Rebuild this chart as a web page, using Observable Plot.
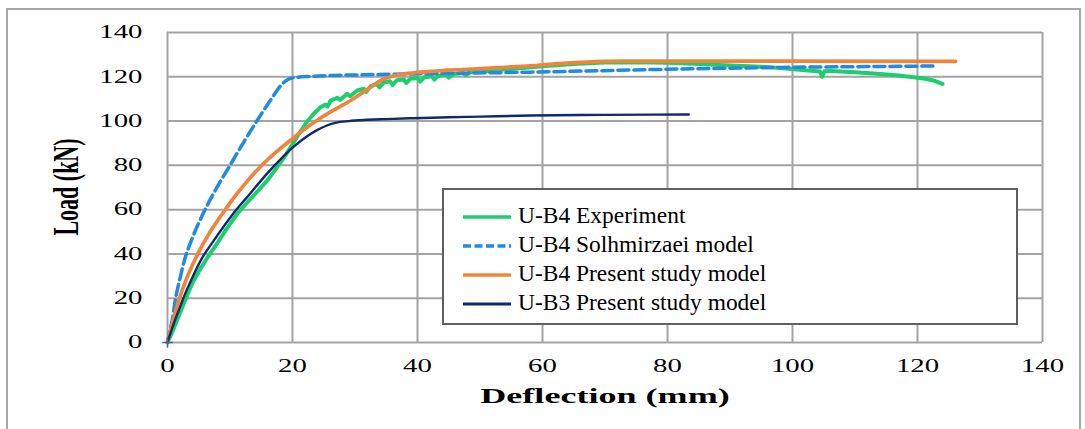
<!DOCTYPE html>
<html><head><meta charset="utf-8">
<script src="https://cdn.jsdelivr.net/npm/d3@7"></script>
<script src="https://cdn.jsdelivr.net/npm/@observablehq/plot@0.6"></script>
<style>html,body{margin:0;padding:0;background:#fff;} #chart{position:relative;width:1085px;height:429px;overflow:hidden;background:#fff;}</style>
</head><body><div id="chart"></div>
<script>
const xTicks = [0, 20, 40, 60, 80, 100, 120, 140];
const yTicks = [0, 20, 40, 60, 80, 100, 120, 140];
const xLabel = "Deflection (mm)";
const yLabel = "Load (kN)";
const seriesNames = ["U-B4 Experiment", "U-B4 Solhmirzaei model", "U-B4 Present study model", "U-B3 Present study model"];
const seriesColors = ["#1ccf6c", "#1f8be2", "#f0843a", "#10286c"];

const experiment = [[0,0],[0.8,5],[1.8,12],[2.8,19],[4,27],[5.2,33],[6.4,38.4],[8,45],[9.5,51.5],[11.15,58.1],[13,64],[14.9,69.8],[16.2,74],[17.55,79.2],[19,85],[20.2,90.5],[21.2,95],[22.35,99.8],[23.4,103.3],[24.5,106.3],[25.3,107.5],[25.6,106.5],[26.1,109.2],[27.15,110.5],[27.6,109.5],[28.75,112.3],[29.2,111.2],[30.35,113.8],[31.4,114.6],[31.8,113.2],[32.5,115.8],[33.5,116.8],[33.9,115.2],[34.6,117.4],[35.6,118],[36,116.3],[36.7,118.4],[37.8,118.8],[38.2,117.2],[38.9,119.1],[40,119.5],[40.4,117.8],[41.1,119.8],[42.3,120.2],[42.7,118.7],[43.3,120.5],[44.6,120.9],[45,119.6],[45.7,121.2],[47.3,121.7],[47.7,120.7],[48.4,122],[50.1,122.4],[52.5,123],[55.4,123.6],[60,124.8],[65,125.8],[70,126.5],[75,126.6],[80,126.3],[85,125.8],[90,125.1],[95,124.5],[98.1,124],[102,122.9],[104.4,122.4],[104.75,120],[105.1,122.5],[106.1,122.6],[110,122],[114.1,121.3],[117,120.6],[119.4,119.8],[121,119.2],[122.6,118.3],[124,116.8]];
const solhmirzaei = [[0,0],[0.35,5],[0.75,10],[1.3,20],[2,29],[2.8,38],[3.95,47],[5,54],[6.1,60.5],[8,70.5],[10.1,80.5],[12.2,90.5],[14.4,100.5],[16.5,109.5],[18.2,116.3],[19.2,118.7],[20.3,119.6],[23,120.2],[30.9,120.9],[39.4,121.3],[58.1,122.1],[80,123.4],[100,124.3],[120,124.8],[122.9,124.9]];
const presentB4 = [[0,0],[0.5,5.5],[1,11],[1.6,17],[2.1,21.5],[3,28.5],[4,35],[5.3,42.5],[6.5,48.5],[8,55],[9.5,61],[10.6,65.3],[12.5,72],[14.9,79.5],[17.5,86.3],[20,92],[22,96.5],[24,100.5],[26.5,104.8],[29.3,109.3],[32,114.3],[34.6,119],[36.5,120.6],[39.4,121.8],[43,122.6],[47.4,123.3],[53.3,124.2],[58.1,124.9],[62,125.8],[66,126.5],[70,127],[80,127.1],[100,127.1],[126.1,127]];
const presentB3 = [[0,0],[1,8.5],[2,16],[2.6,20.5],[4,29.5],[5.3,37],[7.4,46],[10.6,58.5],[13,66.5],[16,76.5],[18,82.5],[20,88],[22,92.5],[24,96],[25.5,98],[27,99.3],[29,100],[31.4,100.5],[35,100.9],[39.4,101.3],[45,101.7],[50.1,102],[58.1,102.5],[70,102.8],[83.4,103]];

const seriesData = [experiment, solhmirzaei, presentB4, presentB3];
const lineWidths = [4, 3.5, 3.7, 2.4];
const dashes = [null, "11,5", null, null];
const legendWidths = [3.5, 3.5, 3.5, 3];
const legendDashes = [null, "8,3.5", null, null];

const font = "Liberation Serif, Times New Roman, serif";
const X = d => d[0], Y = d => d[1];

const lineMarks = seriesData.map((data, i) => Plot.line(data, {
  x: X, y: Y, stroke: seriesColors[i], strokeWidth: lineWidths[i],
  strokeDasharray: dashes[i] || undefined, strokeLinejoin: "round",
  curve: i === 0 ? "linear" : "monotone-x"
}));

const plot = Plot.plot({
  width: 1085, height: 429,
  marginLeft: 167, marginRight: 43, marginTop: 32, marginBottom: 87,
  style: {background: "#fff", color: "#000", fontFamily: font},
  x: {domain: [0, 140]},
  y: {domain: [0, 140]},
  marks: [
    Plot.gridX(xTicks, {stroke: "#a3a3a3", strokeOpacity: 1, strokeWidth: 2}),
    Plot.gridY(yTicks, {stroke: "#a3a3a3", strokeOpacity: 1, strokeWidth: 2}),
    ...lineMarks,
    Plot.dot([[0, 0]], {x: X, y: Y, symbol: "plus", r: 3.5, stroke: "#3b6e7e", strokeWidth: 1.5}),
    Plot.axisX(xTicks, {tickSize: 0, tickPadding: 17, fontSize: 18, fontFamily: font, label: null}),
    Plot.axisY(yTicks, {tickSize: 0, tickPadding: 25, fontSize: 18, fontFamily: font, label: null}),
    Plot.text([xLabel], {text: d => d, frameAnchor: "bottom", dy: 60, fontSize: 22, fontWeight: "bold", fontFamily: font, fill: "#000"}),
    Plot.text([yLabel], {text: d => d, frameAnchor: "left", fontSize: 22, fontWeight: "bold", fontFamily: font, fill: "#000"})
  ]
});
document.getElementById("chart").append(plot);

const svg = d3.select(plot);
function stretch(el, k) {
  const L = el.getComputedTextLength();
  el.setAttribute("textLength", L * k);
  el.setAttribute("lengthAdjust", "spacingAndGlyphs");
}
svg.selectAll('g[aria-label="x-axis tick label"] text, g[aria-label="y-axis tick label"] text').each(function() { stretch(this, 1.6); });
svg.selectAll('g[aria-label="text"] text').each(function() {
  if (this.textContent === xLabel) stretch(this, 1.64);
  else if (this.textContent === yLabel) {
    const g = this.parentNode;
    if (g && g.removeAttribute) g.removeAttribute("transform");
    this.removeAttribute("x"); this.removeAttribute("y"); this.removeAttribute("dy");
    this.setAttribute("text-anchor", "middle");
    this.setAttribute("transform", "translate(78,187) rotate(-90) scale(1,1.6)");
  }
});

// legend
const lg = svg.append("g").attr("aria-label", "legend").attr("text-anchor", "start");
lg.append("rect").attr("x", 443).attr("y", 189).attr("width", 574).attr("height", 135)
  .attr("fill", "#fff").attr("stroke", "#5f5f5f").attr("stroke-width", 2);
seriesNames.forEach((name, i) => {
  const yy = 217 + 29 * i;
  lg.append("line").attr("x1", 463).attr("x2", 511).attr("y1", yy).attr("y2", yy)
    .attr("stroke", seriesColors[i]).attr("stroke-width", legendWidths[i])
    .attr("stroke-dasharray", legendDashes[i]);
  const t = lg.append("text").attr("x", 518).attr("y", 222.5 + 29 * i)
    .attr("text-anchor", "start")
    .attr("font-family", font).attr("font-size", 23).attr("fill", "#000").text(name);
  stretch(t.node(), 1.02);
});
// outer frame
svg.append("rect").attr("x", 7).attr("y", 9).attr("width", 1073).attr("height", 440)
  .attr("fill", "none").attr("stroke", "#a6a6a6").attr("stroke-width", 2);
</script>
</body></html>
